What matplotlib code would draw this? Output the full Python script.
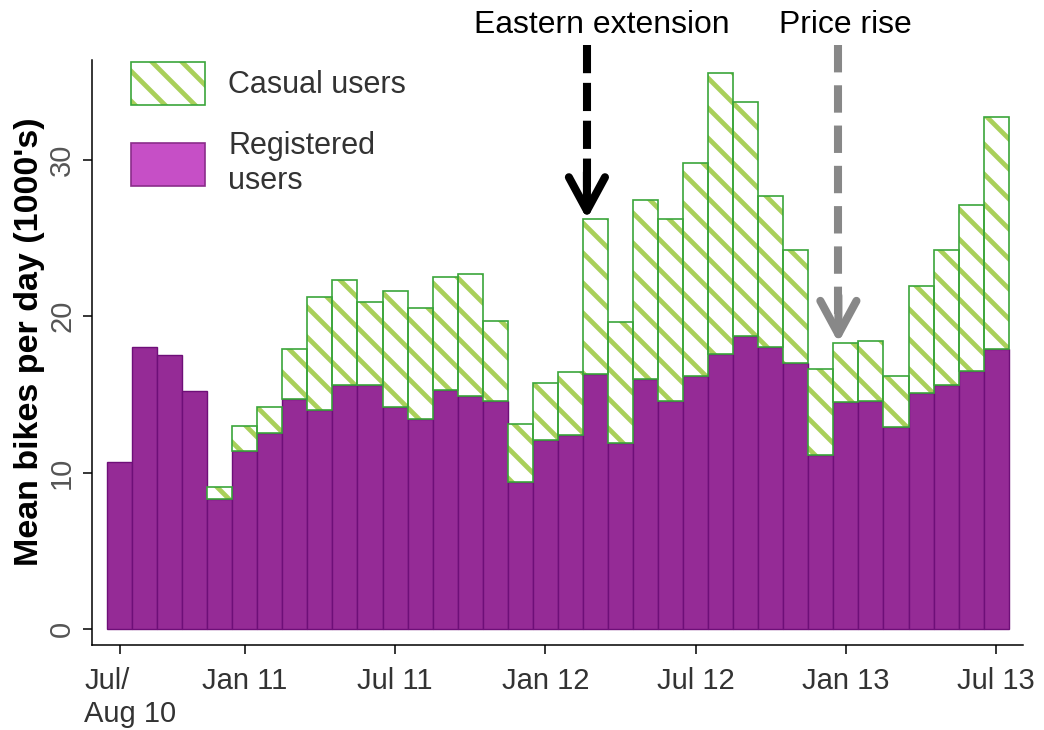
import matplotlib
matplotlib.use("Agg")
import matplotlib.pyplot as plt
from matplotlib.patches import Patch
from matplotlib.legend_handler import HandlerTuple
import matplotlib.transforms as mtransforms
import numpy as np

DPI = 90
P = 100 / DPI  # keep visual sizes as designed for 100 dpi

plt.rcParams['font.family'] = ['Liberation Sans', 'DejaVu Sans']
plt.rcParams['hatch.linewidth'] = 3.8

# ---- data (thousands of bikes per day) ----
months = ["Jul/Aug 10", "Sep 10", "Oct 10", "Nov 10", "Dec 10",
          "Jan 11", "Feb 11", "Mar 11", "Apr 11", "May 11", "Jun 11",
          "Jul 11", "Aug 11", "Sep 11", "Oct 11", "Nov 11", "Dec 11",
          "Jan 12", "Feb 12", "Mar 12", "Apr 12", "May 12", "Jun 12",
          "Jul 12", "Aug 12", "Sep 12", "Oct 12", "Nov 12", "Dec 12",
          "Jan 13", "Feb 13", "Mar 13", "Apr 13", "May 13", "Jun 13",
          "Jul 13"]
registered = [10.7, 18.0, 17.5, 15.2, 8.3, 11.4, 12.5, 14.7, 14.0, 15.6, 15.6,
              14.2, 13.4, 15.3, 14.9, 14.6, 9.4, 12.1, 12.4, 16.3, 11.9, 16.0,
              14.6, 16.2, 17.6, 18.7, 18.0, 17.0, 11.1, 14.5, 14.6, 12.9, 15.1,
              15.6, 16.5, 17.9]
casual = [0.0, 0.0, 0.0, 0.0, 0.8, 1.6, 1.7, 3.2, 7.2, 6.7, 5.3,
          7.4, 7.1, 7.2, 7.8, 5.1, 3.7, 3.6, 4.0, 9.9, 7.7, 11.4,
          11.6, 13.6, 17.9, 15.0, 9.7, 7.2, 5.5, 3.8, 3.8, 3.3, 6.8,
          8.6, 10.6, 14.8]
tick_months = ["Jul/Aug 10", "Jan 11", "Jul 11", "Jan 12", "Jul 12", "Jan 13", "Jul 13"]
tick_labels = ["Jul/\nAug 10", "Jan 11", "Jul 11", "Jan 12", "Jul 12", "Jan 13", "Jul 13"]
yticks = [0, 10, 20, 30]
events = ["Eastern extension", "Price rise"]
event_months = ["Mar 12", "Jan 13"]

# ---- colours ----
PURPLE = "#952B96"
PURPLE_EDGE = "#6E0F78"
HATCH = "#A9D05A"
GREEN_EDGE = "#3BA53B"
TXT = "#333333"

fig = plt.figure(figsize=(1044 / DPI, 730 / DPI), dpi=DPI)
ax = fig.add_axes([92/1044, 1-645/730, (1023-92)/1044, (645-60)/730])

x = np.arange(len(months))
reg = np.array(registered)
cas = np.array(casual)

ax.bar(x, reg, width=1.0, color=PURPLE, edgecolor=PURPLE_EDGE, linewidth=1.0*P, zorder=2)
mask = cas > 0
ax.bar(x[mask], cas[mask], bottom=reg[mask], width=1.0, facecolor="white",
       edgecolor=HATCH, linewidth=0, hatch="\\", zorder=2)
ax.bar(x[mask], cas[mask], bottom=reg[mask], width=1.0, facecolor="none",
       edgecolor=GREEN_EDGE, linewidth=1.2*P, zorder=3)

ax.set_xlim(-1.10, 36.07)
ax.set_ylim(-1.02, 36.36)

tick_pos = [months.index(m) for m in tick_months]
ax.set_xticks(tick_pos)
ax.set_xticklabels(tick_labels, fontsize=21*P, color=TXT, multialignment="left")
ax.set_yticks(yticks)
ax.set_yticklabels([str(v) for v in yticks], fontsize=21*P, color="#555555",
                   rotation=90, va="center")
ax.tick_params(axis="both", direction="out", length=6.5*P, width=1.1*P, color="black")
ax.tick_params(axis="x", pad=9.5*P)
ax.tick_params(axis="y", pad=5*P)
# shift the first (two-line) label right a little
first = ax.get_xticklabels()[0]
first.set_transform(first.get_transform() +
                    mtransforms.ScaledTranslation(11/DPI, 0, fig.dpi_scale_trans))

for s in ["top", "right"]:
    ax.spines[s].set_visible(False)
for s in ["left", "bottom"]:
    ax.spines[s].set_linewidth(1.1*P)

ax.set_ylabel("Mean bikes per day (1000's)", fontsize=24.5*P, fontweight="bold", color="black")
ax.yaxis.set_label_coords(-0.0505, 0.518)

# ---- event arrows ----
styles = [dict(color="black", dashes=(3.5, 1.2)), dict(color="#888888", dashes=(3.4, 1.6))]
offsets = [-0.34, -0.30]
text_dx = [0.25, -0.03]
for name, m, st, off, tdx in zip(events, event_months, styles, offsets, text_dx):
    i = months.index(m)
    xa = i + off
    tip = reg[i] + cas[i]
    ax.text(i + tdx, 38.6, name, fontsize=23*P,
            ha="center", va="center", color="black", clip_on=False)
    ax.plot([xa, xa], [37.3, tip + 1.0], color=st["color"], lw=5.8*P,
            dashes=st["dashes"], solid_capstyle="butt", dash_capstyle="butt",
            clip_on=False, zorder=5)
    ax.annotate("", xy=(xa, tip), xytext=(xa, tip + 3.0),
                arrowprops=dict(arrowstyle="->,head_length=1.2,head_width=0.65",
                                color=st["color"], lw=5.8*P, shrinkA=0, shrinkB=0,
                                mutation_scale=20*P),
                zorder=6, annotation_clip=False)

# ---- legend ----
h_cas = (Patch(facecolor="white", edgecolor=HATCH, hatch="\\", linewidth=0),
         Patch(facecolor="none", edgecolor=GREEN_EDGE, linewidth=1.2*P))
h_reg = Patch(facecolor="#C64FC6", edgecolor="#8B2D8B", linewidth=1.2*P)
leg = ax.legend([h_cas, h_reg], ["Casual users", "Registered\nusers"],
                handler_map={tuple: HandlerTuple(ndivide=1)},
                loc="upper left", bbox_to_anchor=(130.7/1044, 1-62/730),
                bbox_transform=fig.transFigure, frameon=False, fontsize=22*P,
                handlelength=2.42, handleheight=1.79, handletextpad=0.77,
                labelspacing=0.85, borderpad=0, borderaxespad=0)
for t in leg.get_texts():
    t.set_color(TXT)

fig.savefig("out.png", dpi=DPI)
